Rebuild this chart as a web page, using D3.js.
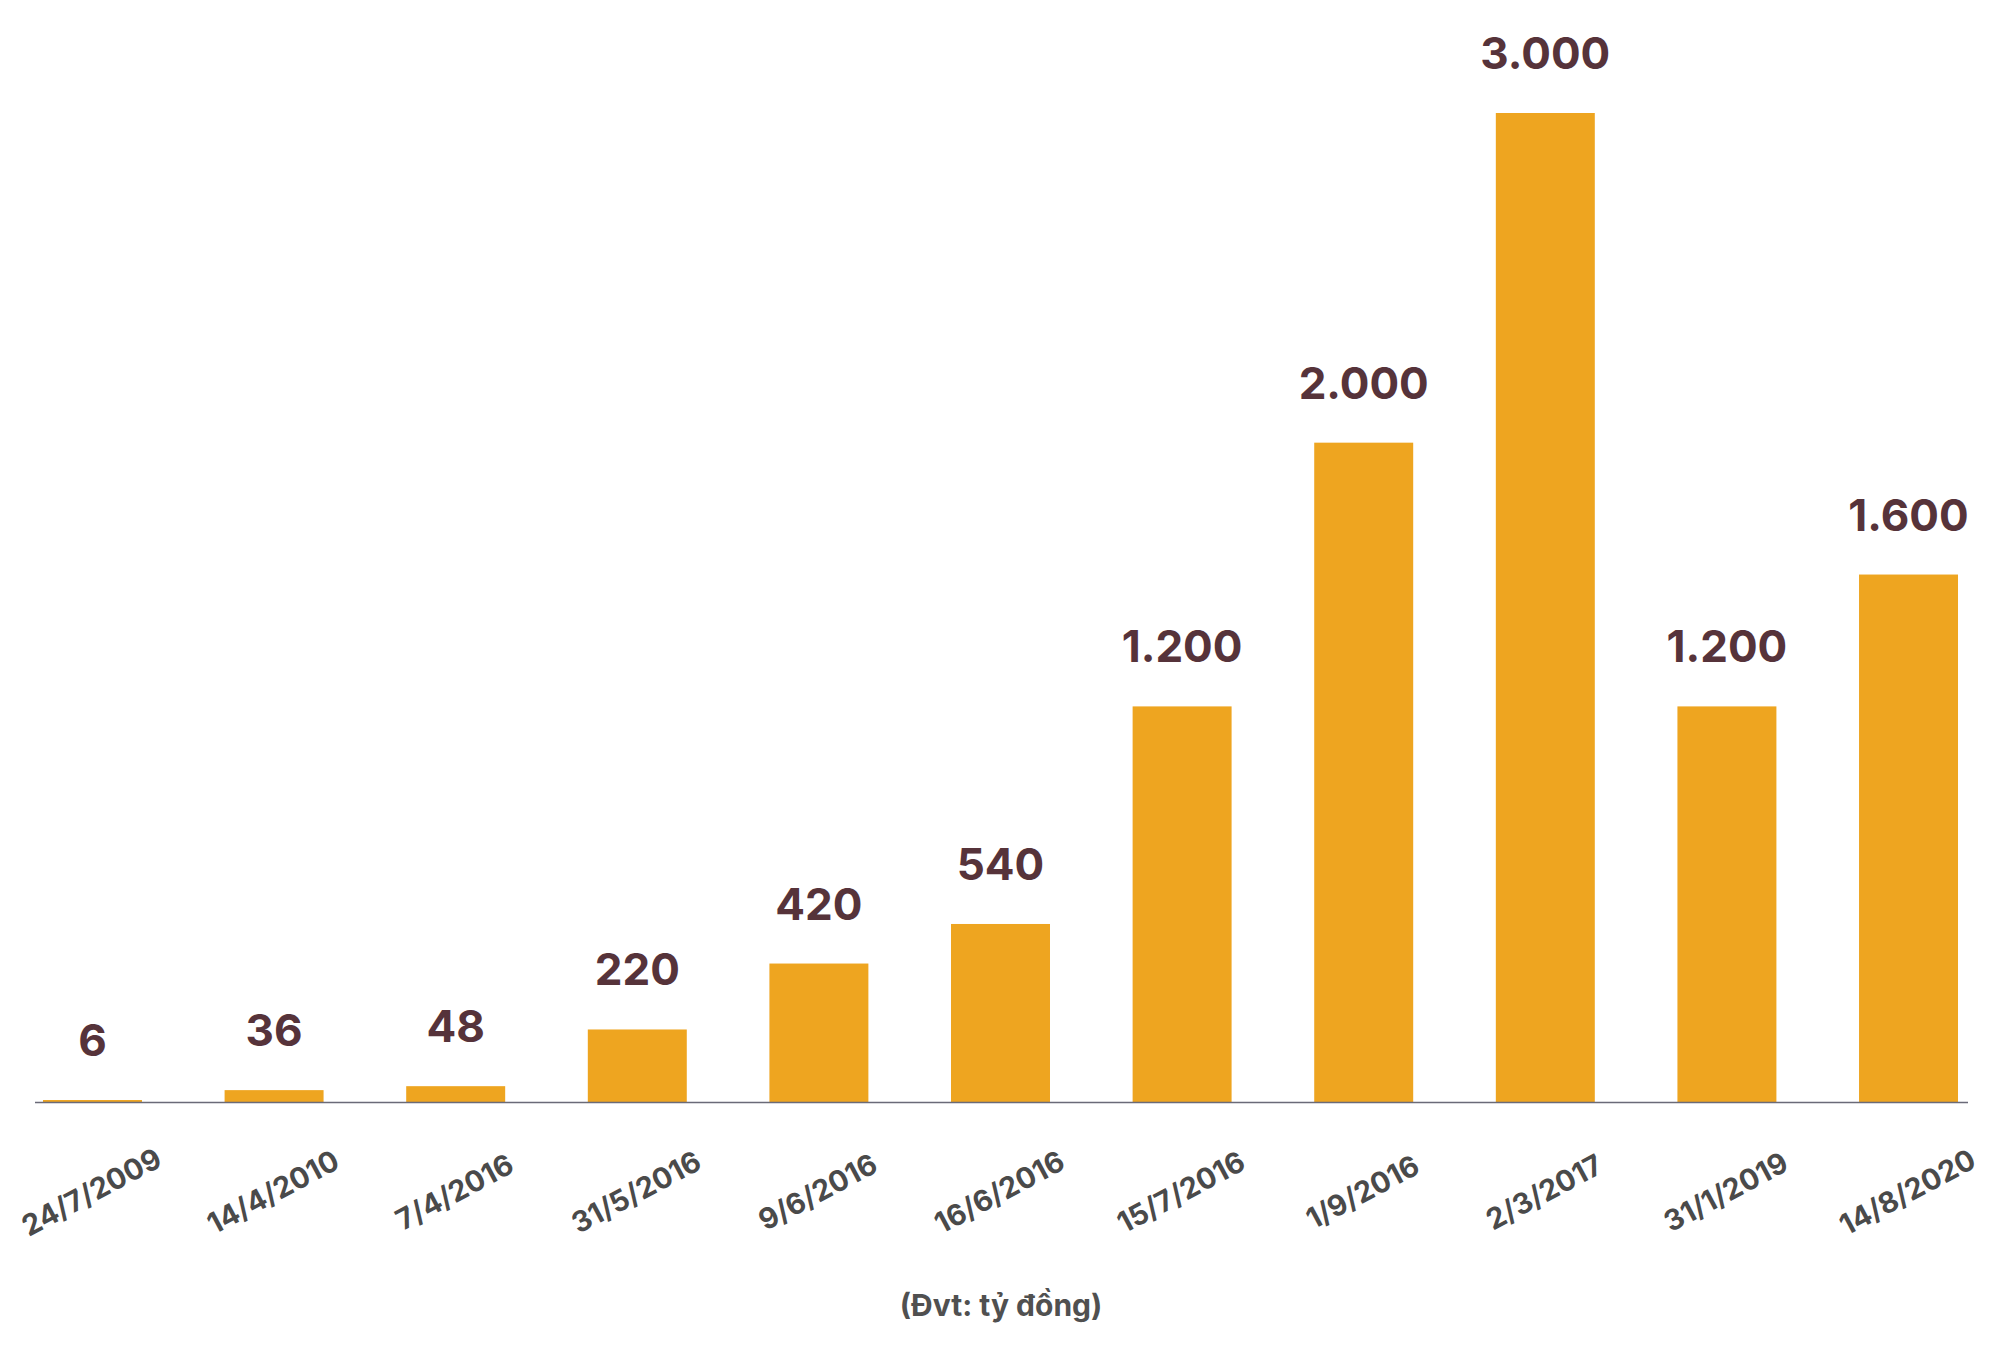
<!DOCTYPE html>
<html>
<head>
<meta charset="utf-8">
<script src="https://cdn.jsdelivr.net/npm/d3@7"></script>
<style>
  html, body { margin: 0; padding: 0; background: #ffffff; }
  svg { display: block; }
</style>
</head>
<body>
<svg id="chart" width="2000" height="1370"></svg>
<script>
const categories = ["24/7/2009", "14/4/2010", "7/4/2016", "31/5/2016", "9/6/2016", "16/6/2016", "15/7/2016", "1/9/2016", "2/3/2017", "31/1/2019", "14/8/2020"];
const values = [6, 36, 48, 220, 420, 540, 1200, 2000, 3000, 1200, 1600];
const valueLabels = ["6", "36", "48", "220", "420", "540", "1.200", "2.000", "3.000", "1.200", "1.600"];
const unitLabel = "(Đvt: tỷ đồng)";

const svg = d3.select("#chart");
const x = d3.scaleBand().domain(categories).range([35, 1966]).paddingInner(0.455).paddingOuter(0.044);
const y = d3.scaleLinear().domain([0, 3000]).range([1102, 113]);

const data = categories.map((c, i) => ({ c, v: values[i], l: valueLabels[i] }));

svg.append("g").selectAll("rect").data(data).join("rect")
  .attr("x", d => x(d.c))
  .attr("y", d => y(d.v))
  .attr("width", x.bandwidth())
  .attr("height", d => y(0) - y(d.v))
  .attr("fill", "#eea520");

const axis = svg.append("g")
  .attr("transform", `translate(0,${y(0)})`)
  .call(d3.axisBottom(x).tickSize(0).tickSizeOuter(0));
axis.select(".domain").attr("stroke", "#6a6a78").attr("stroke-width", 1.6)
  .attr("d", "M35,0.5H1968");
axis.selectAll(".tick text")
  .attr("font-family", "Inter, 'Noto Sans', sans-serif")
  .attr("font-weight", 700)
  .attr("font-size", 29)
  .attr("fill", "#4a4a4a")
  .attr("text-anchor", "middle")
  .attr("dy", 0)
  .attr("y", 0)
  .attr("transform", "translate(0,92) rotate(-28)")
  .attr("dominant-baseline", "middle");

svg.append("g").selectAll("text").data(data).join("text")
  .attr("x", d => x(d.c) + x.bandwidth() / 2)
  .attr("y", d => y(d.v) - 44)
  .attr("text-anchor", "middle")
  .attr("font-family", "Inter, 'Noto Sans', sans-serif")
  .attr("font-weight", 700)
  .attr("font-size", 44)
  .attr("fill", "#56333a")
  .text(d => d.l);

svg.append("text")
  .attr("x", 1001)
  .attr("y", 1316)
  .attr("text-anchor", "middle")
  .attr("font-family", "Inter, 'Noto Sans', sans-serif")
  .attr("font-weight", 700)
  .attr("font-size", 30)
  .attr("fill", "#505050")
  .text(unitLabel);
</script>
</body>
</html>
